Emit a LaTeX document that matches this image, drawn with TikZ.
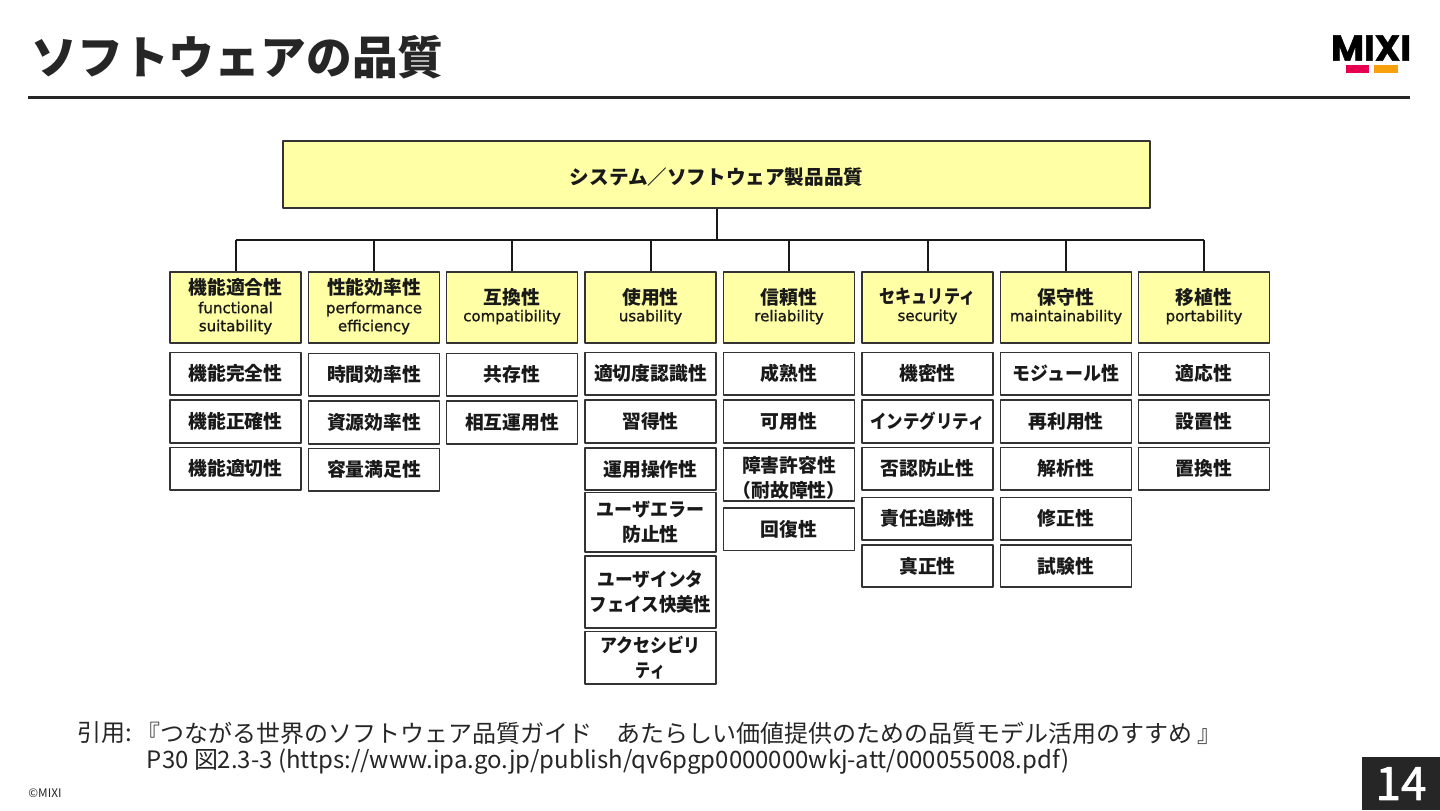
\documentclass[tikz,border=0pt]{standalone}
\usepackage{graphicx}
\usepackage{fontspec}
\setmainfont{Noto Sans CJK JP}
\newfontfamily\boxlatin[RawFeature={embolden=1.2}]{DejaVu Sans}
\newfontfamily\logofont[RawFeature={embolden=1.2}]{Poppins}
\newfontfamily\pagefont[RawFeature={embolden=1.5}]{Noto Sans CJK JP}
\usetikzlibrary{calc}

\definecolor{inkdark}{HTML}{262626}
\definecolor{paleyellow}{HTML}{FFFFA6}
\definecolor{logored}{HTML}{E6004F}
\definecolor{logoorange}{HTML}{F9A10D}

\begin{document}
\begin{tikzpicture}[x=0.5pt,y=-0.5pt,line cap=round,line join=round]
  \tikzset{
    topbox/.style={draw=black!80,line width=0.6pt,fill=paleyellow,minimum width=433.5pt,minimum height=33.5pt,inner sep=0pt,text=black!90,font=\bfseries\fontsize{9.8}{12}\selectfont},
    catbox/.style={draw=black!80,line width=0.6pt,fill=paleyellow,minimum width=65.5pt,minimum height=35.5pt,inner sep=0pt,align=center,text=black!90,font=\bfseries\fontsize{9.4}{9.4}\selectfont},
    leafbox/.style={draw=black!80,line width=0.6pt,fill=white,minimum width=65.5pt,inner sep=0pt,align=center,text=black!90,font=\bfseries\fontsize{9.4}{12.5}\selectfont},
    bus/.style={line width=1pt,line cap=butt,draw=black!90},
    plain/.style={inner sep=0pt,text=inkdark}
  }
  \newcommand{\latn}[1]{{\boxlatin\mdseries\fontsize{7.5}{9}\selectfont #1}}
  \newcommand{\squeeze}[2]{\scalebox{#1}[1]{#2}}
  \newcommand{\catdraw}[3]{\node[catbox] (#1) at (#2,307.5) {#3\rule[-2.8pt]{0pt}{1pt}};}
  \newcommand{\leafdraw}[5]{
    \pgfmathsetmacro{\ymid}{(#3+#4)/2}
    \pgfmathsetmacro{\yspan}{(#4-#3)/2}
    \node[leafbox,minimum height=\yspan pt] (#1) at (#2,\ymid) {#5};
  }
  \useasboundingbox (0,0) rectangle (1440,810);

  % heading and logo
  \node[plain,anchor=west,font=\bfseries\fontsize{22.9}{26}\selectfont] (heading) at (31,57) {ソフトウェアの品質};
  \fill[inkdark] (28,95.5) rectangle (1410,98.5);
  \node[inner sep=0pt,text=black,font=\logofont\bfseries\fontsize{18}{18}\selectfont] (logo) at (1371,48) {MIXI};
  \fill[logored] (1346,65) rectangle (1369,73);
  \fill[logoorange] (1374,65) rectangle (1398,73);

  % top of the tree
  \node[topbox] (top) at (716.5,174.5) {\rule{0pt}{11pt}システム／ソフトウェア製品品質};

  % eight characteristics
  \catdraw{func}{235.5}{機能適合性\\[0pt]\latn{functional}\\[-0.4pt]\latn{suitability}}
  \catdraw{perf}{374}{性能効率性\\[0pt]\latn{performance}\\[-0.4pt]\latn{efficiency}}
  \catdraw{comp}{512}{互換性\\[-0.9pt]\latn{compatibility}}
  \catdraw{usab}{650.5}{使用性\\[-0.9pt]\latn{usability}}
  \catdraw{reli}{789}{信頼性\\[-0.9pt]\latn{reliability}}
  \catdraw{secu}{927.5}{\squeeze{0.855}{セキュリティ}\\[-0.9pt]\latn{security}}
  \catdraw{main}{1066}{保守性\\[-0.9pt]\latn{maintainability}}
  \catdraw{port}{1204}{移植性\\[-0.9pt]\latn{portability}}

  % tree lines
  \coordinate (trunk) at ($(top.south)+(0,31)$);
  \draw[bus] (top.south) -- (trunk);
  \draw[bus] (func |- trunk) -- (port |- trunk);
  \foreach \cat in {func,perf,comp,usab,reli,secu,main,port}
    \draw[bus] (\cat |- trunk) -- (\cat.north);

  % sub-characteristics
  \leafdraw{funca}{235.5}{352.5}{395}{機能完全性}
  \leafdraw{funcb}{235.5}{400}{443}{機能正確性}
  \leafdraw{funcc}{235.5}{447.5}{490}{機能適切性}
  \leafdraw{perfa}{374}{353.5}{396}{時間効率性}
  \leafdraw{perfb}{374}{401}{444}{資源効率性}
  \leafdraw{perfc}{374}{448.5}{491}{容量満足性}
  \leafdraw{compa}{512}{353.5}{396}{共存性}
  \leafdraw{compb}{512}{401}{444}{相互運用性}
  \leafdraw{usaba}{650.5}{352.5}{395}{適切度認識性}
  \leafdraw{usabb}{650.5}{400}{443}{習得性}
  \leafdraw{usabc}{650.5}{448}{490}{運用操作性}
  \leafdraw{usabd}{650.5}{492.5}{552}{\squeeze{0.96}{ユーザエラー}\\防止性}
  \leafdraw{usabe}{650.5}{556}{628}{\squeeze{0.94}{ユーザインタ}\\\squeeze{0.93}{フェイス快美性}}
  \leafdraw{usabf}{650.5}{631.5}{684}{\squeeze{0.9}{アクセシビリ}\\\squeeze{0.8}{ティ}}
  \leafdraw{relia}{789}{352.5}{395}{成熟性}
  \leafdraw{relib}{789}{400}{443}{可用性}
  \leafdraw{relic}{789}{448}{501}{\rule{0pt}{11.2pt}障害許容性\\（耐故障性）}
  \leafdraw{relid}{789}{508}{550.5}{回復性}
  \leafdraw{secua}{927.5}{352.5}{395}{機密性}
  \leafdraw{secub}{927.5}{400}{443}{\squeeze{0.875}{インテグリティ}}
  \leafdraw{secuc}{927.5}{447.5}{490}{否認防止性}
  \leafdraw{secud}{927.5}{497.5}{540}{責任追跡性}
  \leafdraw{secue}{927.5}{545}{587}{真正性}
  \leafdraw{maina}{1066}{352.5}{395}{\squeeze{0.955}{モジュール性}}
  \leafdraw{mainb}{1066}{400}{443}{再利用性}
  \leafdraw{mainc}{1066}{447.5}{490}{解析性}
  \leafdraw{maind}{1066}{497.5}{540}{修正性}
  \leafdraw{maine}{1066}{545}{587}{試験性}
  \leafdraw{porta}{1204}{352.5}{395}{適応性}
  \leafdraw{portb}{1204}{400}{443}{設置性}
  \leafdraw{portc}{1204}{447.5}{490}{置換性}

  % citation and footer
  \node[plain,anchor=west,font=\fontsize{12}{14}\selectfont] (citehead) at (77,733) {引用:};
  \node[plain,anchor=west,font=\fontsize{12}{14}\selectfont] (citeone) at (136,733) {『つながる世界のソフトウェア品質ガイド　あたらしい価値提供のための品質モデル活用のすすめ 』};
  \node[plain,anchor=west,font=\fontsize{11.98}{14}\selectfont] (citetwo) at (146.5,762) {P30 図2.3-3 (https://www.ipa.go.jp/publish/qv6pgp0000000wkj-att/000055008.pdf)};
  \node[plain,anchor=west,font=\fontsize{5.9}{6}\selectfont] (copyr) at (28,793) {©MIXI};
  \node[fill=inkdark,text=white,minimum width=39pt,minimum height=26.5pt,inner sep=0pt,font=\pagefont\fontsize{23}{24}\selectfont] (pagenum) at (1401,783.5) {14};
\end{tikzpicture}
\end{document}
